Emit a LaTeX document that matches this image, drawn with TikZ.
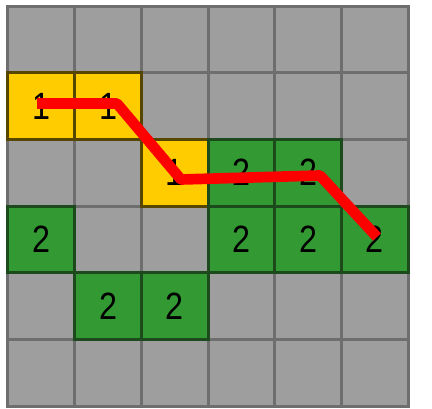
\documentclass[tikz,border=0pt]{standalone}
\usepackage{fontspec}
\newfontfamily\digitfont[FakeStretch=0.85]{Liberation Sans}
\definecolor{cellgray}{HTML}{9E9E9E}
\definecolor{gridline}{HTML}{6E6E6E}
\definecolor{gold}{HTML}{FFCC00}
\definecolor{goldline}{HTML}{574600}
\definecolor{leaf}{HTML}{339933}
\definecolor{leafline}{HTML}{1C4A1C}
\definecolor{pathred}{HTML}{FF0000}
\tikzset{
  cell/.style={draw=gridline, fill=cellgray, line width=2.25pt, minimum width=50pt, minimum height=50pt, inner sep=0pt, font=\digitfont\fontsize{28.5}{30}\selectfont},
  yellowcell/.style={cell, draw=goldline, fill=gold},
  greencell/.style={cell, draw=leafline, fill=leaf},
  route/.style={draw=pathred, line width=8pt, line join=bevel, line cap=butt}
}
\begin{document}
\begin{tikzpicture}[x=0.75pt, y=-0.75pt]
\useasboundingbox (0,0) rectangle (432,408);
\foreach \r in {0,...,5} {
  \foreach \c in {0,...,5} {
    \node[cell] (g\r\c) at ({41.333+66.667*\c},{39.333+66.667*\r}) {};
  }
}
\foreach \r/\c in {1/0,1/1,2/2} {
  \node[yellowcell] (y\r\c) at ({41.333+66.667*\c},{39.333+66.667*\r}) {1};
}
\foreach \r/\c in {2/3,2/4,3/0,3/3,3/4,3/5,4/1,4/2} {
  \node[greencell] (n\r\c) at ({41.333+66.667*\c},{39.333+66.667*\r}) {2};
}
\coordinate (p1) at (37,103.5);
\coordinate (p2) at (117,103.5);
\coordinate (p3) at (181,179.5);
\coordinate (p4) at (320,175.5);
\coordinate (p5) at (377,237);
\draw[route] (p1) -- (p2) -- (p3) -- (p4) -- (p5);
\end{tikzpicture}
\end{document}
